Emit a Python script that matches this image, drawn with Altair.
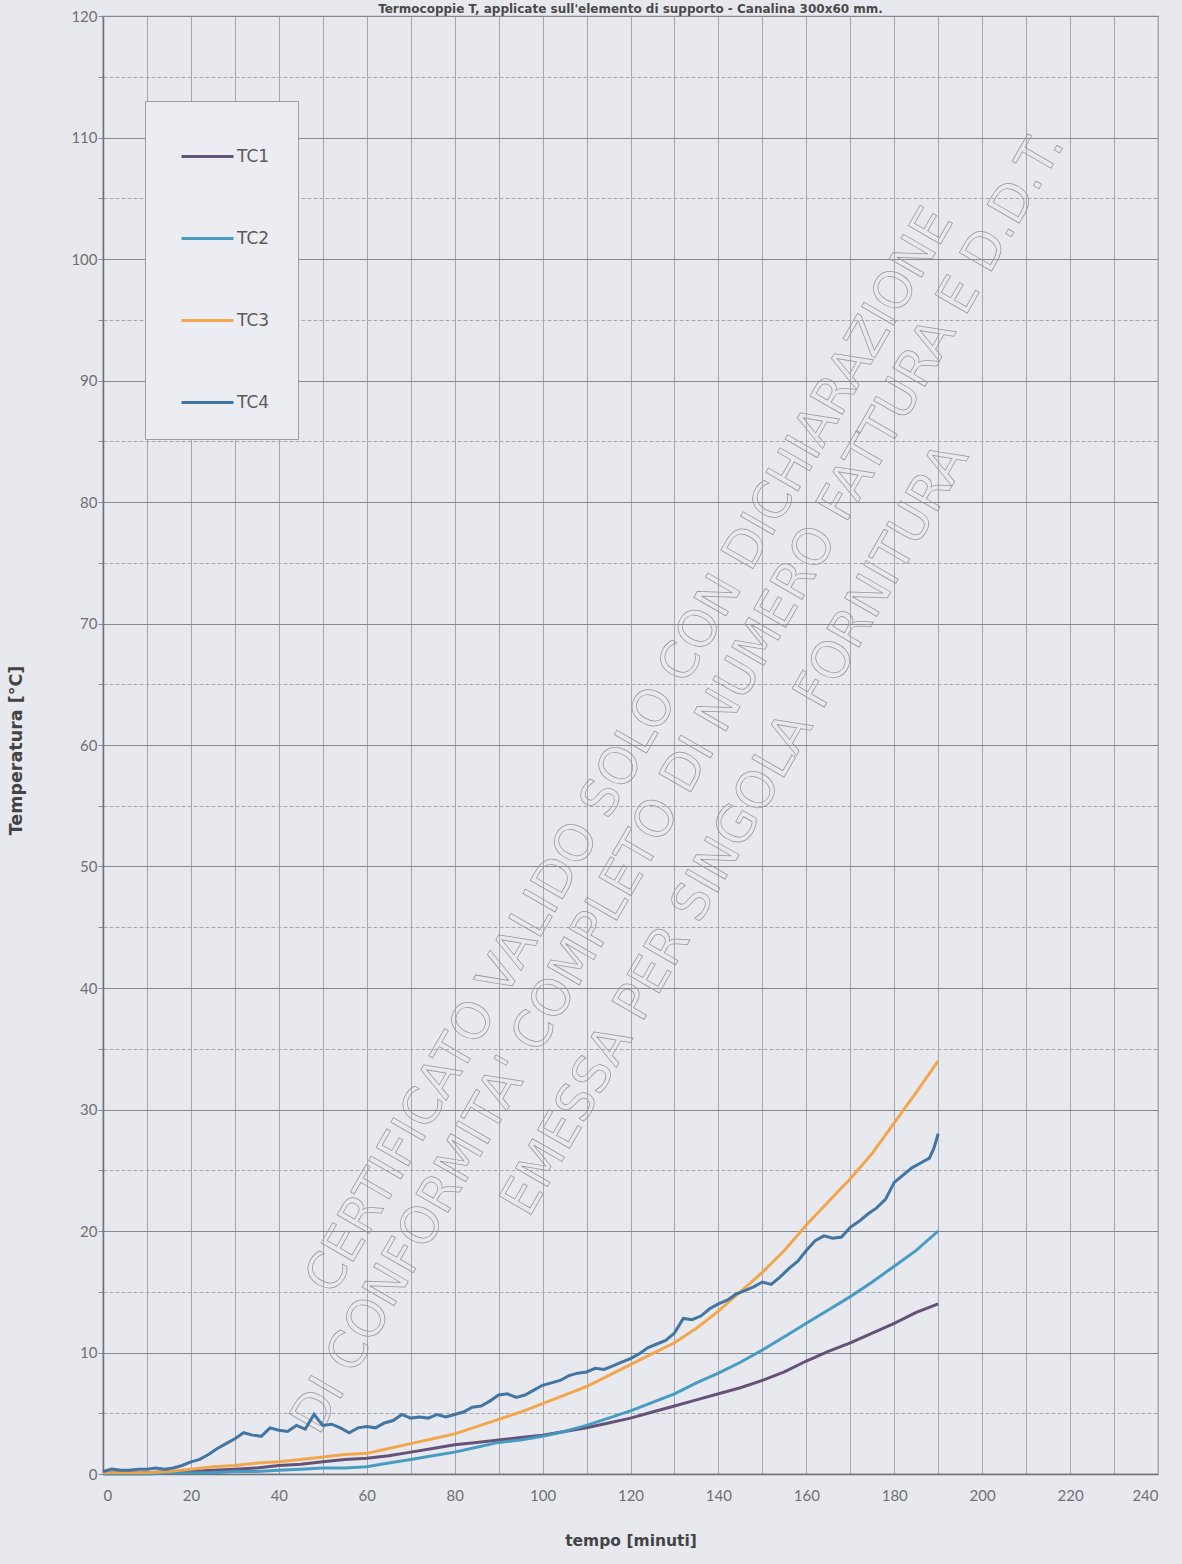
import altair as alt
import pandas as pd

# ---- series (time in minutes, temperature in °C) ----
SERIES = ["TC1", "TC2", "TC3", "TC4"]
COLORS = ["#5e4a72", "#3f98c0", "#f2a244", "#3a6f9e"]

T5 = list(range(0, 191, 5))

TC1 = [0.1, 0.1, 0.1, 0.2, 0.2, 0.3, 0.4, 0.5, 0.7, 0.8,
       1.0, 1.2, 1.3, 1.5, 1.8, 2.1, 2.4, 2.6, 2.8, 3.0,
       3.2, 3.5, 3.8, 4.2, 4.6, 5.1, 5.6, 6.1, 6.6, 7.1,
       7.7, 8.4, 9.3, 10.1, 10.8, 11.6, 12.4, 13.3, 14.0]

TC2 = [0.0, 0.0, 0.0, 0.1, 0.1, 0.1, 0.2, 0.2, 0.3, 0.4,
       0.5, 0.5, 0.6, 0.9, 1.2, 1.5, 1.8, 2.2, 2.6, 2.8,
       3.1, 3.5, 4.0, 4.6, 5.2, 5.9, 6.6, 7.5, 8.3, 9.2,
       10.2, 11.3, 12.4, 13.5, 14.6, 15.8, 17.1, 18.4, 20.0]

TC3 = [0.1, 0.1, 0.1, 0.2, 0.4, 0.6, 0.7, 0.9, 1.0, 1.2,
       1.4, 1.6, 1.7, 2.1, 2.5, 2.9, 3.3, 3.9, 4.5, 5.1,
       5.8, 6.5, 7.2, 8.1, 9.0, 9.9, 10.8, 12.0, 13.4, 15.0,
       16.6, 18.4, 20.5, 22.4, 24.3, 26.4, 28.9, 31.4, 34.0]

T4 = list(range(0, 189, 2)) + [189, 190]
TC4 = [0.2, 0.4, 0.3, 0.3, 0.4, 0.4, 0.5, 0.4, 0.5, 0.7,
       1.0, 1.2, 1.6, 2.1, 2.5, 2.9, 3.4, 3.2, 3.1, 3.8,
       3.6, 3.5, 4.0, 3.7, 4.9, 4.0, 4.1, 3.8, 3.4, 3.8,
       3.9, 3.8, 4.2, 4.4, 4.9, 4.6, 4.7, 4.6, 4.9, 4.7,
       4.9, 5.1, 5.5, 5.6, 6.0, 6.5, 6.6, 6.3, 6.5, 6.9,
       7.3, 7.5, 7.7, 8.1, 8.3, 8.4, 8.7, 8.6, 8.9, 9.2,
       9.5, 9.9, 10.4, 10.7, 11.0, 11.6, 12.8, 12.7, 13.0, 13.6,
       14.0, 14.3, 14.8, 15.1, 15.4, 15.8, 15.6, 16.2, 16.9, 17.5,
       18.4, 19.2, 19.6, 19.4, 19.5, 20.3, 20.8, 21.4, 21.9, 22.6,
       24.0, 24.6, 25.2, 25.6, 26.0, 26.8, 28.0]

# ---- axis ticks ----
X_TICKS = list(range(0, 241, 10))
Y_TICKS = list(range(0, 121, 5))

# ---- watermark stamp (centre of each line in data units) ----
WM_TEXT = ["CERTIFICATO VALIDO  SOLO CON DICHIARAZIONE",
           "DI CONFORMITA' COMPLETO DI NUMERO FATTURA E D.D.T.",
           "EMESSA PER SINGOLA FORNITURA"]
WM_T = [120.0, 131.0, 144.0]
WM_C = [59.5, 56.9, 53.0]

TITLE = "Termocoppie T, applicate sull'elemento di supporto - Canalina 300x60 mm."

FONT = "Lato"
TITLE_FONT = "DejaVu Sans"
BG = "#e8e9ef"

rows = []
for name, ts, vs in [("TC1", T5, TC1), ("TC2", T5, TC2), ("TC3", T5, TC3), ("TC4", T4, TC4)]:
    rows += [{"tempo": t, "temperatura": v, "serie": name} for t, v in zip(ts, vs)]
df = pd.DataFrame(rows)

wm_df = pd.DataFrame({"testo": WM_TEXT, "tempo": WM_T, "temperatura": WM_C})

x_scale = alt.Scale(domain=[0, 240], nice=False)
y_scale = alt.Scale(domain=[0, 120], nice=False)

x_axis = alt.Axis(
    values=X_TICKS,
    labelExpr="datum.value % 20 === 0 ? datum.label : ''",
    title="tempo [minuti]",
    titleY=66,
    titleBaseline="middle",
    titleFontSize=15.5,
    grid=True,
    gridColor="#a6a7ae",
    gridWidth=1,
    tickSize=0,
    labelPadding=14,
)

y_axis = alt.Axis(
    values=Y_TICKS,
    labelExpr="datum.value % 10 === 0 ? datum.label : ''",
    title="Temperatura [°C]",
    titleX=-78,
    titleY=734,
    titleFontSize=17.5,
    grid=True,
    gridColor={"condition": {"test": "datum.value % 10 === 0", "value": "#888990"},
               "value": "#a7a8af"},
    gridDash={"condition": {"test": "datum.value % 10 === 0", "value": []},
              "value": [4, 2]},
    gridWidth=1,
    tickSize=5,
    tickColor="#8a8b92",
    labelPadding=1,
)

watermark = alt.Chart(wm_df).mark_text(
    angle=300,
    font="DejaVu Sans",
    fontSize=51,
    fillOpacity=0,
    stroke="#96979e",
    strokeWidth=0.75,
    align="center",
    baseline="middle",
).encode(
    x=alt.X("tempo:Q", scale=x_scale, axis=x_axis),
    y=alt.Y("temperatura:Q", scale=y_scale, axis=y_axis),
    text="testo:N",
)

lines = alt.Chart(df).mark_line(strokeWidth=3, opacity=0.95).encode(
    x=alt.X("tempo:Q", scale=x_scale, axis=x_axis),
    y=alt.Y("temperatura:Q", scale=y_scale, axis=y_axis),
    color=alt.Color(
        "serie:N",
        scale=alt.Scale(domain=SERIES, range=COLORS),
        legend=alt.Legend(
            title=None,
            orient="none",
            legendX=42,
            legendY=85,
            symbolType="stroke",
            symbolSize=2700,
            symbolStrokeWidth=3,
            symbolOffset=7,
            labelOffset=2,
            labelFont="DejaVu Sans",
            labelFontSize=17,
            labelColor="#5a5a5a",
            rowPadding=46,
            padding=28,
            fillColor="#ecedf2",
            strokeColor="#9c9da4",
        ),
    ),
    detail="serie:N",
)

chart = alt.layer(watermark, lines).properties(
    width=1055,
    height=1458,
    autosize=alt.AutoSizeParams(type="none"),
    padding={"left": 103, "top": 16, "right": 24, "bottom": 90},
    background=BG,
    title=alt.TitleParams(
        text=TITLE,
        font=TITLE_FONT,
        fontSize=12,
        fontWeight="bold",
        color="#4a4a4a",
        anchor="middle",
        frame="group",
        baseline="bottom",
        offset=1,
        dy=20,
    ),
).configure_view(
    stroke="#86878e",
    strokeWidth=1.2,
).configure_axis(
    labelFont=FONT,
    labelFontSize=15,
    labelColor="#707070",
    titleFont=TITLE_FONT,
    titleFontWeight="bold",
    titleColor="#444444",
    domainColor="#707177",
    domainWidth=1.5,
)

chart.save("out.html", embed_options={"renderer": "svg", "actions": False})
